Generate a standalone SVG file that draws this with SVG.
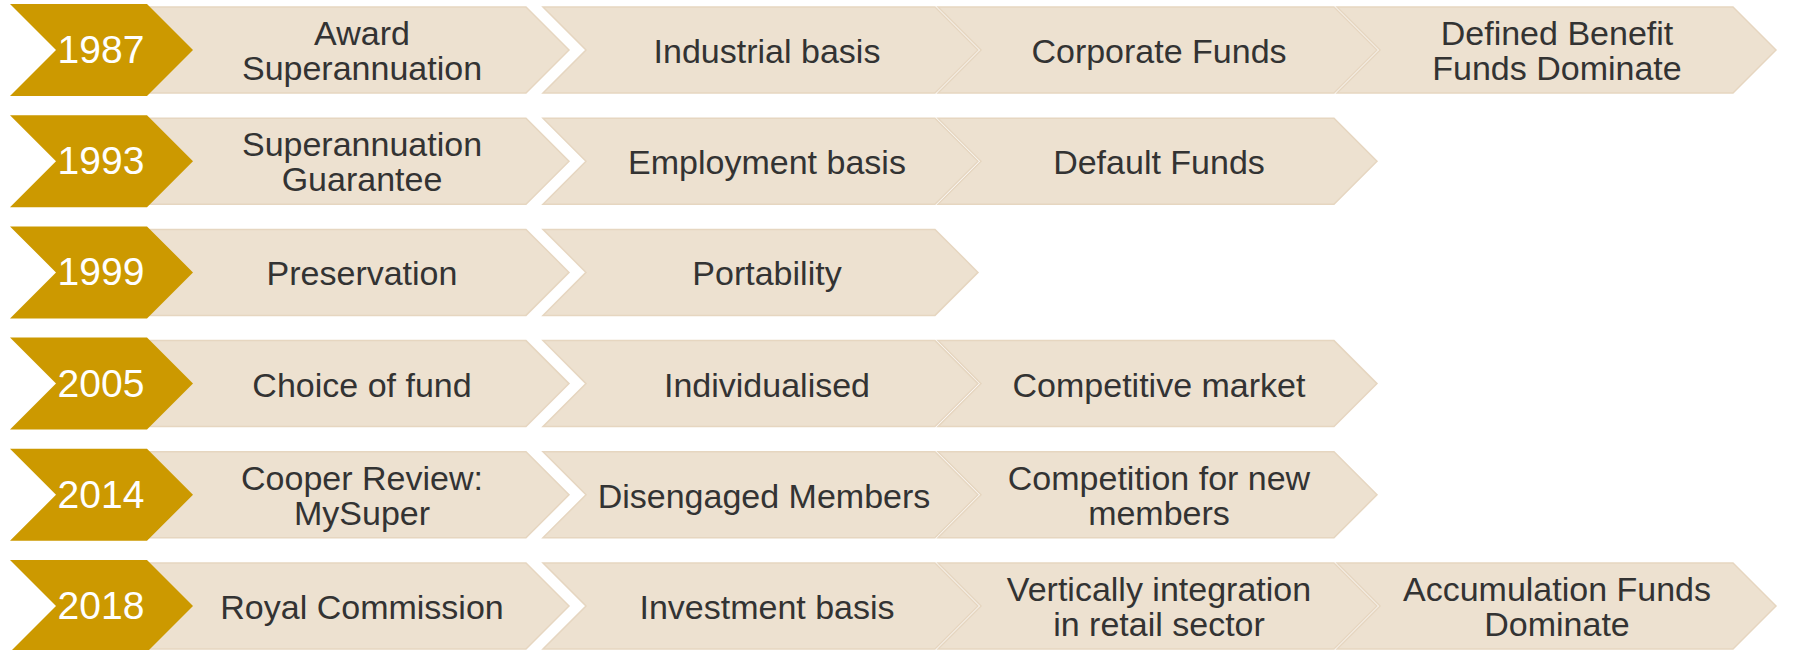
<svg xmlns="http://www.w3.org/2000/svg" xmlns:xlink="http://www.w3.org/1999/xlink" width="1798" height="650" viewBox="0 0 1798 650">
<style>
.gold{fill:#CC9900;}
.beige{fill:#EDE1D0;stroke:#E6D6C0;stroke-width:1.5;}
.yr{font-family:"Liberation Sans",Arial,sans-serif;font-size:39px;fill:#FFFFFF;text-anchor:middle;}
.lbl{font-family:"Liberation Sans",Arial,sans-serif;font-size:34px;fill:#333333;text-anchor:middle;}
</style>
<defs>
<polygon id="g" points="10,-46 147,-46 193,0 147,46 10,46 56,0"/>
<polygon id="b1" points="140,-43 526,-43 569,0 526,43 140,43"/>
<polygon id="b2" points="543,-43 935,-43 978,0 935,43 543,43 586,0"/>
<polygon id="b3" points="938,-43 1334,-43 1377,0 1334,43 938,43 981,0"/>
<polygon id="b4" points="1337,-43 1733,-43 1776,0 1733,43 1337,43 1380,0"/>
</defs>

<!-- Row 1 -->
<g id="row1" transform="translate(0,50)">
<g id="r1-b1"><use href="#b1" class="beige"/><text class="lbl" x="362" y="-5">Award</text><text class="lbl" x="362" y="30">Superannuation</text></g>
<g id="r1-b2"><use href="#b2" class="beige"/><text class="lbl" x="767" y="13">Industrial basis</text></g>
<g id="r1-b3"><use href="#b3" class="beige"/><text class="lbl" x="1159" y="13">Corporate Funds</text></g>
<g id="r1-b4"><use href="#b4" class="beige"/><text class="lbl" x="1557" y="-5">Defined Benefit</text><text class="lbl" x="1557" y="30">Funds Dominate</text></g>
<g id="r1-year"><use href="#g" class="gold"/><text class="yr" x="101" y="13">1987</text></g>
</g>

<!-- Row 2 -->
<g id="row2" transform="translate(0,161.2)">
<g id="r2-b1"><use href="#b1" class="beige"/><text class="lbl" x="362" y="-5">Superannuation</text><text class="lbl" x="362" y="30">Guarantee</text></g>
<g id="r2-b2"><use href="#b2" class="beige"/><text class="lbl" x="767" y="13">Employment basis</text></g>
<g id="r2-b3"><use href="#b3" class="beige"/><text class="lbl" x="1159" y="13">Default Funds</text></g>
<g id="r2-year"><use href="#g" class="gold"/><text class="yr" x="101" y="13">1993</text></g>
</g>

<!-- Row 3 -->
<g id="row3" transform="translate(0,272.4)">
<g id="r3-b1"><use href="#b1" class="beige"/><text class="lbl" x="362" y="13">Preservation</text></g>
<g id="r3-b2"><use href="#b2" class="beige"/><text class="lbl" x="767" y="13">Portability</text></g>
<g id="r3-year"><use href="#g" class="gold"/><text class="yr" x="101" y="13">1999</text></g>
</g>

<!-- Row 4 -->
<g id="row4" transform="translate(0,383.6)">
<g id="r4-b1"><use href="#b1" class="beige"/><text class="lbl" x="362" y="13">Choice of fund</text></g>
<g id="r4-b2"><use href="#b2" class="beige"/><text class="lbl" x="767" y="13">Individualised</text></g>
<g id="r4-b3"><use href="#b3" class="beige"/><text class="lbl" x="1159" y="13">Competitive market</text></g>
<g id="r4-year"><use href="#g" class="gold"/><text class="yr" x="101" y="13">2005</text></g>
</g>

<!-- Row 5 -->
<g id="row5" transform="translate(0,494.8)">
<g id="r5-b1"><use href="#b1" class="beige"/><text class="lbl" x="362" y="-5">Cooper Review:</text><text class="lbl" x="362" y="30">MySuper</text></g>
<g id="r5-b2"><use href="#b2" class="beige"/><text class="lbl" x="764" y="13">Disengaged Members</text></g>
<g id="r5-b3"><use href="#b3" class="beige"/><text class="lbl" x="1159" y="-5">Competition for new</text><text class="lbl" x="1159" y="30">members</text></g>
<g id="r5-year"><use href="#g" class="gold"/><text class="yr" x="101" y="13">2014</text></g>
</g>

<!-- Row 6 -->
<g id="row6" transform="translate(0,606)">
<g id="r6-b1"><use href="#b1" class="beige"/><text class="lbl" x="362" y="13">Royal Commission</text></g>
<g id="r6-b2"><use href="#b2" class="beige"/><text class="lbl" x="767" y="13">Investment basis</text></g>
<g id="r6-b3"><use href="#b3" class="beige"/><text class="lbl" x="1159" y="-5">Vertically integration</text><text class="lbl" x="1159" y="30">in retail sector</text></g>
<g id="r6-b4"><use href="#b4" class="beige"/><text class="lbl" x="1557" y="-5">Accumulation Funds</text><text class="lbl" x="1557" y="30">Dominate</text></g>
<g id="r6-year"><use href="#g" class="gold"/><text class="yr" x="101" y="13">2018</text></g>
</g>
</svg>
